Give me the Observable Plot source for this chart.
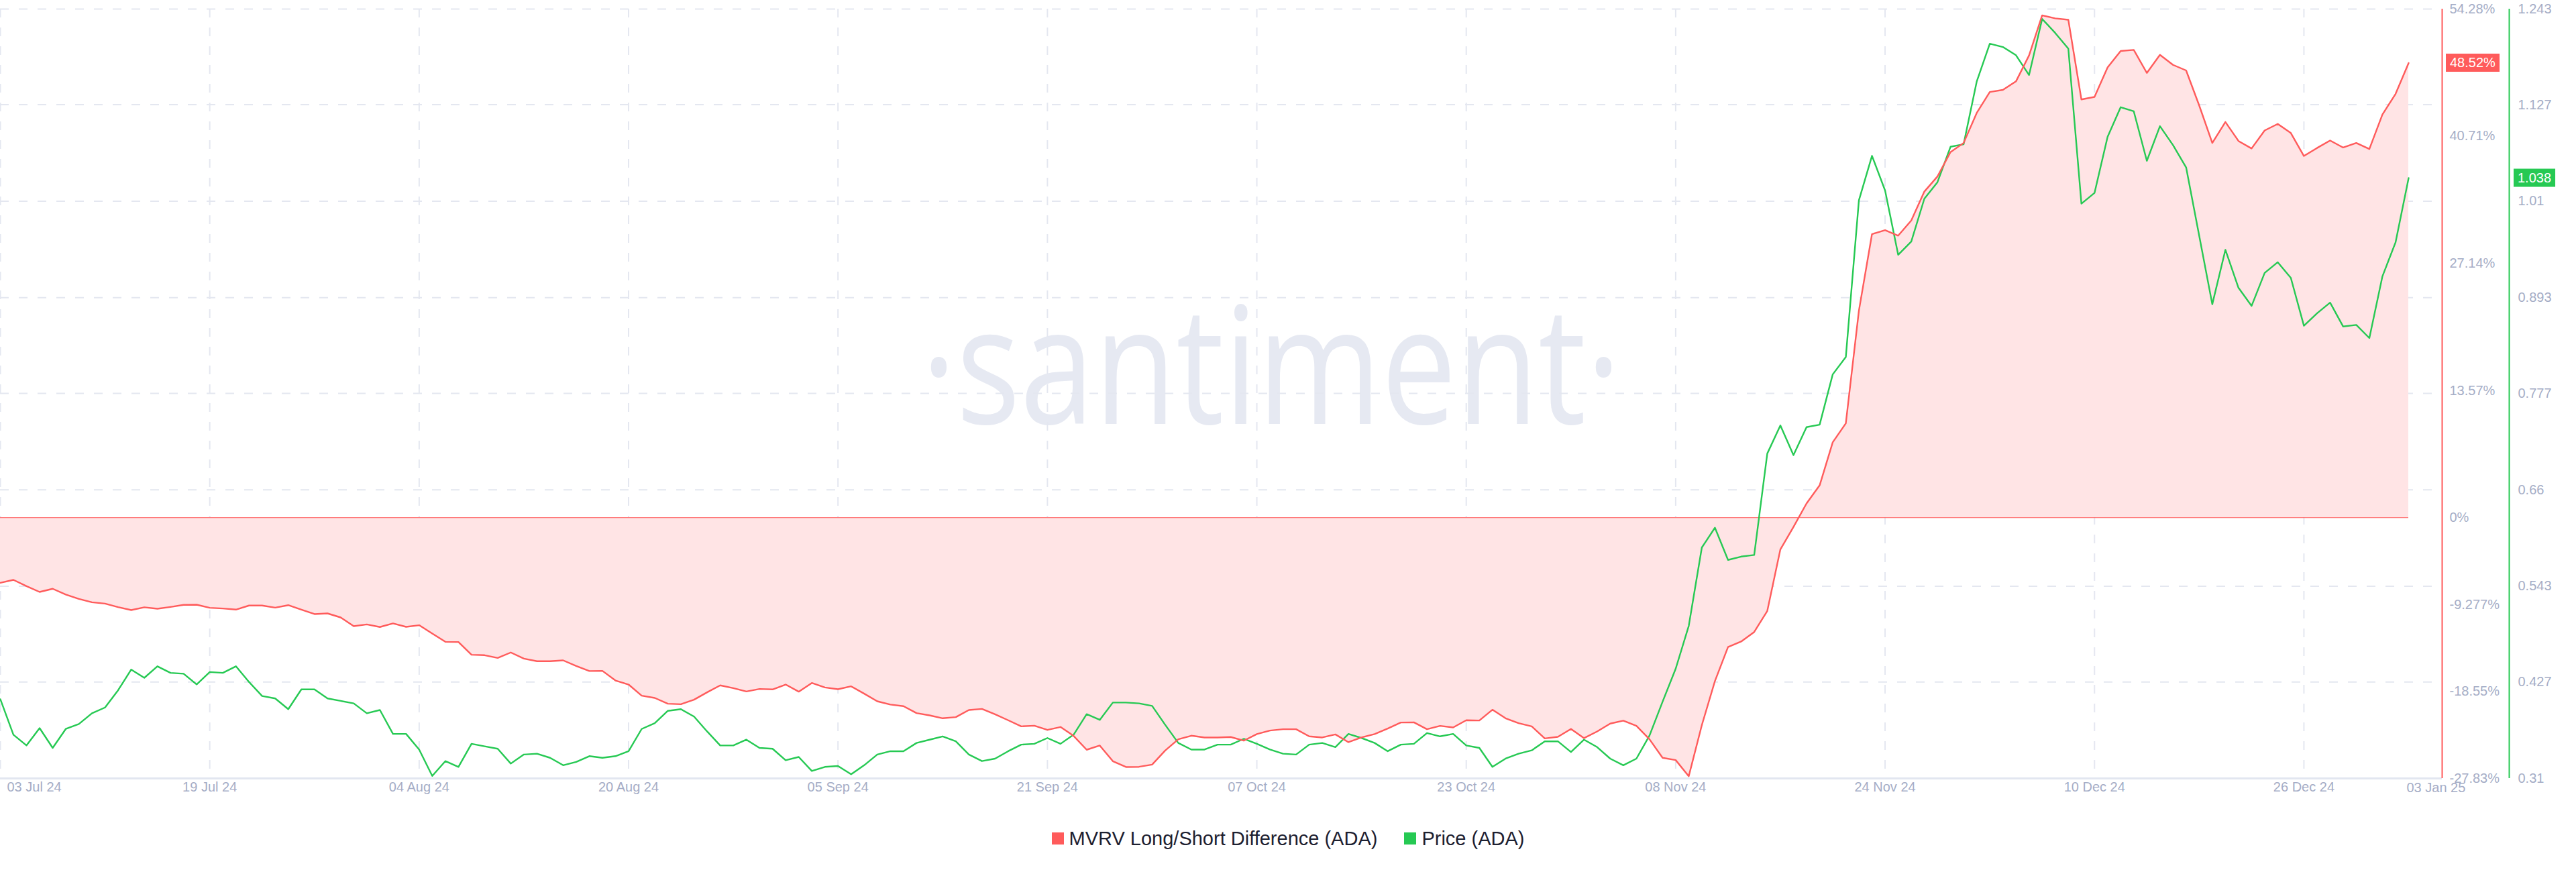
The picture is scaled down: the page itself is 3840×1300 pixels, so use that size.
<!DOCTYPE html>
<html>
<head>
<meta charset="utf-8">
<script src="https://cdn.jsdelivr.net/npm/d3@7"></script>
<script src="https://cdn.jsdelivr.net/npm/@observablehq/plot@0.6"></script>
<style>
html, body { margin: 0; padding: 0; background: #ffffff; }
#wrap { position: relative; width: 3840px; height: 1300px; font-family: "Liberation Sans", Arial, sans-serif; }
#legend { height: 100px; display: flex; align-items: center; justify-content: center; font-size: 29px; color: #1d2030; }
.item { display: flex; align-items: center; }
.item + .item { margin-left: 40px; }
.sw { width: 18px; height: 18px; margin-right: 8px; }
</style>
</head>
<body>
<div id="wrap"><div id="chart"></div><div id="legend"></div></div>
<script>
// ---- data (daily, starting 03 Jul 24) ----
const startDate = "2024-07-03";
const mvrv = [
  -6.95, -6.64, -7.31, -7.93, -7.59, -8.21, -8.67, -9.03, -9.17, -9.55,
  -9.86, -9.57, -9.72, -9.53, -9.31, -9.29, -9.62, -9.69, -9.81, -9.38,
  -9.38, -9.60, -9.34, -9.81, -10.29, -10.22, -10.65, -11.58, -11.39, -11.67,
  -11.29, -11.65, -11.48, -12.37, -13.25, -13.27, -14.63, -14.68, -14.97, -14.39,
  -15.04, -15.32, -15.32, -15.23, -15.83, -16.37, -16.35, -17.38, -17.81, -19.00,
  -19.24, -19.86, -19.91, -19.43, -18.64, -17.90, -18.19, -18.55, -18.28, -18.33,
  -17.81, -18.57, -17.64, -18.12, -18.31, -18.00, -18.78, -19.60, -19.95, -20.12,
  -20.86, -21.10, -21.41, -21.29, -20.53, -20.41, -20.98, -21.62, -22.27, -22.20,
  -22.65, -22.34, -23.29, -24.77, -24.32, -25.99, -26.61, -26.59, -26.35, -24.85,
  -23.65, -23.27, -23.46, -23.46, -23.41, -23.80, -23.10, -22.72, -22.58, -22.58,
  -23.34, -23.46, -23.13, -23.96, -23.46, -23.10, -22.51, -21.86, -21.84, -22.58,
  -22.22, -22.39, -21.62, -21.65, -20.50, -21.41, -21.93, -22.27, -23.56, -23.39,
  -22.55, -23.53, -22.82, -21.98, -21.67, -22.22, -23.65, -25.63, -25.87, -27.59,
  -22.14, -17.44, -13.81, -13.22, -12.20, -9.96, -3.39, -0.99, 1.52, 3.45,
  8.04, 10.07, 22.09, 30.26, 30.69, 30.10, 31.71, 34.80, 36.41, 39.02,
  39.99, 43.19, 45.43, 45.65, 46.56, 49.33, 53.61, 53.29, 53.13, 44.63,
  44.90, 48.05, 49.81, 49.92, 47.46, 49.39, 48.32, 47.73, 43.99, 39.99,
  42.23, 40.20, 39.40, 41.32, 42.02, 41.05, 38.60, 39.45, 40.25, 39.50,
  39.99, 39.34, 43.03, 45.22, 48.52
];
const price = [
  0.406, 0.363, 0.350, 0.371, 0.347, 0.370, 0.376, 0.389, 0.396, 0.417,
  0.442, 0.432, 0.446, 0.438, 0.437, 0.424, 0.439, 0.438, 0.446, 0.427,
  0.410, 0.407, 0.394, 0.418, 0.418, 0.407, 0.404, 0.401, 0.389, 0.393,
  0.364, 0.364, 0.345, 0.313, 0.331, 0.324, 0.352, 0.349, 0.346, 0.328,
  0.339, 0.340, 0.335, 0.326, 0.330, 0.337, 0.335, 0.337, 0.343, 0.370,
  0.377, 0.392, 0.394, 0.385, 0.367, 0.350, 0.350, 0.357, 0.347, 0.346,
  0.332, 0.336, 0.319, 0.324, 0.325, 0.315, 0.326, 0.339, 0.343, 0.343,
  0.353, 0.357, 0.361, 0.355, 0.339, 0.331, 0.334, 0.343, 0.351, 0.352,
  0.359, 0.352, 0.363, 0.388, 0.381, 0.402, 0.402, 0.401, 0.398, 0.375,
  0.353, 0.345, 0.345, 0.351, 0.351, 0.358, 0.352, 0.345, 0.340, 0.339,
  0.351, 0.353, 0.348, 0.364, 0.359, 0.353, 0.343, 0.351, 0.352, 0.365,
  0.361, 0.364, 0.350, 0.347, 0.324, 0.334, 0.340, 0.344, 0.355, 0.355,
  0.342, 0.357, 0.348, 0.334, 0.326, 0.334, 0.362, 0.403, 0.443, 0.495,
  0.590, 0.614, 0.575, 0.579, 0.581, 0.704, 0.738, 0.702, 0.736, 0.739,
  0.800, 0.821, 1.011, 1.065, 1.023, 0.945, 0.961, 1.013, 1.033, 1.076,
  1.079, 1.155, 1.201, 1.197, 1.187, 1.163, 1.231, 1.214, 1.195, 1.007,
  1.020, 1.088, 1.124, 1.119, 1.059, 1.101, 1.078, 1.051, 0.968, 0.885,
  0.951, 0.905, 0.883, 0.923, 0.936, 0.917, 0.859, 0.874, 0.887, 0.858,
  0.860, 0.844, 0.919, 0.960, 1.038
];
const xTicks = ["2024-07-03", "2024-07-19", "2024-08-04", "2024-08-20", "2024-09-05", "2024-09-21",
                "2024-10-07", "2024-10-23", "2024-11-08", "2024-11-24", "2024-12-10", "2024-12-26"];
const endTick = "2025-01-03";
const mvrvTicks = [54.28, 40.71, 27.14, 13.57, 0, -9.277, -18.55, -27.83];
const priceTicks = [1.243, 1.127, 1.01, 0.893, 0.777, 0.66, 0.543, 0.427, 0.31];
const seriesNames = ["MVRV Long/Short Difference (ADA)", "Price (ADA)"];
const colors = ["#ff5b5b", "#26c953"];
const watermark = "·santiment·";

// ---- build ----
const parse = s => new Date(s + "T00:00:00Z");
const start = parse(startDate);
const data = mvrv.map((v, i) => ({date: d3.utcDay.offset(start, i), mvrv: v, price: price[i]}));
const toY = d3.scaleLinear().domain([priceTicks[priceTicks.length - 1], priceTicks[0]])
  .range([mvrvTicks[mvrvTicks.length - 1], mvrvTicks[0]]);
const fmt = d3.utcFormat("%d %b %y");
const tickDates = xTicks.map(parse);
const endDate = parse(endTick);
const labelColor = "#a5adc6";
const gridColor = "#e4e7f0";

const chart = Plot.plot({
  width: 3840,
  height: 1200,
  marginTop: 13,
  marginBottom: 40,
  marginLeft: 0,
  marginRight: 250,
  style: {background: "transparent", fontFamily: "Liberation Sans, Arial, sans-serif", overflow: "visible"},
  x: {type: "utc", domain: [start, endDate], axis: null},
  y: {domain: [mvrvTicks[mvrvTicks.length - 1], mvrvTicks[0]], axis: null},
  marks: [
    Plot.gridX(tickDates, {stroke: gridColor, strokeOpacity: 1, strokeWidth: 2, strokeDasharray: "13,15"}),
    Plot.gridY(priceTicks.slice(0, -1).map(toY), {stroke: gridColor, strokeOpacity: 1, strokeWidth: 2, strokeDasharray: "13,15", insetRight: -36}),
    Plot.areaY(data, {x: "date", y1: 0, y2: "mvrv", fill: "#ffe4e5", fillOpacity: 1}),
    Plot.ruleY([0], {stroke: colors[0], strokeWidth: 1}),
    Plot.ruleY([mvrvTicks[mvrvTicks.length - 1]], {stroke: "#e2e6f0", strokeWidth: 3, insetRight: -50}),
    Plot.lineY(data, {x: "date", y: d => toY(d.price), stroke: colors[1], strokeWidth: 2.4}),
    Plot.lineY(data, {x: "date", y: "mvrv", stroke: colors[0], strokeWidth: 2.4}),
    Plot.ruleX([endDate], {dx: 50, stroke: colors[0], strokeWidth: 2}),
    Plot.ruleX([endDate], {dx: 150, stroke: colors[1], strokeWidth: 2}),
    Plot.text(mvrvTicks, {y: d => d, text: d => `${d}%`, frameAnchor: "right", textAnchor: "start", dx: 61, fill: labelColor, fontSize: 20}),
    Plot.text(priceTicks, {y: d => toY(d), text: d => String(d), frameAnchor: "right", textAnchor: "start", dx: 163, fill: labelColor, fontSize: 20}),
    Plot.text(tickDates.slice(1), {x: d => d, text: d => fmt(d), frameAnchor: "bottom", dy: 19, fill: labelColor, fontSize: 20}),
    Plot.text(tickDates.slice(0, 1), {x: d => d, text: d => fmt(d), frameAnchor: "bottom", dy: 19, dx: 10, textAnchor: "start", fill: labelColor, fontSize: 20}),
    Plot.text([endDate], {x: d => d, text: d => fmt(d), frameAnchor: "bottom", dy: 20, dx: -3, textAnchor: "start", fill: labelColor, fontSize: 20})
  ]
});
document.getElementById("chart").appendChild(chart);

// watermark behind marks
const svg = d3.select(chart);
svg.insert("text", "g")
  .attr("transform", "translate(1895,632) scale(0.82,1)")
  .attr("text-anchor", "middle")
  .attr("font-family", "Open Sans, sans-serif")
  .attr("font-size", 243)
  .attr("fill", "#e6e9f2")
  .text(watermark);

// last-value badges
const ys = chart.scale("y");
const last = data[data.length - 1];
function badge(x, yv, label, color) {
  const cy = ys.apply(yv);
  const g = svg.append("g");
  const t = g.append("text").attr("x", x).attr("y", cy).attr("dy", "0.35em")
    .attr("text-anchor", "start")
    .attr("fill", "#ffffff").attr("font-size", 20).attr("font-family", "Liberation Sans, Arial, sans-serif").text(label);
  const bb = t.node().getBBox();
  g.insert("rect", "text").attr("x", bb.x - 6).attr("y", cy - 13.5)
    .attr("width", bb.width + 12).attr("height", 27).attr("fill", color);
}
badge(3652, last.mvrv, `${last.mvrv.toFixed(2)}%`, colors[0]);
badge(3753, toY(last.price), last.price.toFixed(3), colors[1]);

// legend
const legend = d3.select("#legend");
seriesNames.forEach((name, i) => {
  const it = legend.append("div").attr("class", "item");
  it.append("div").attr("class", "sw").style("background", colors[i]);
  it.append("span").text(name);
});
</script>
</body>
</html>
